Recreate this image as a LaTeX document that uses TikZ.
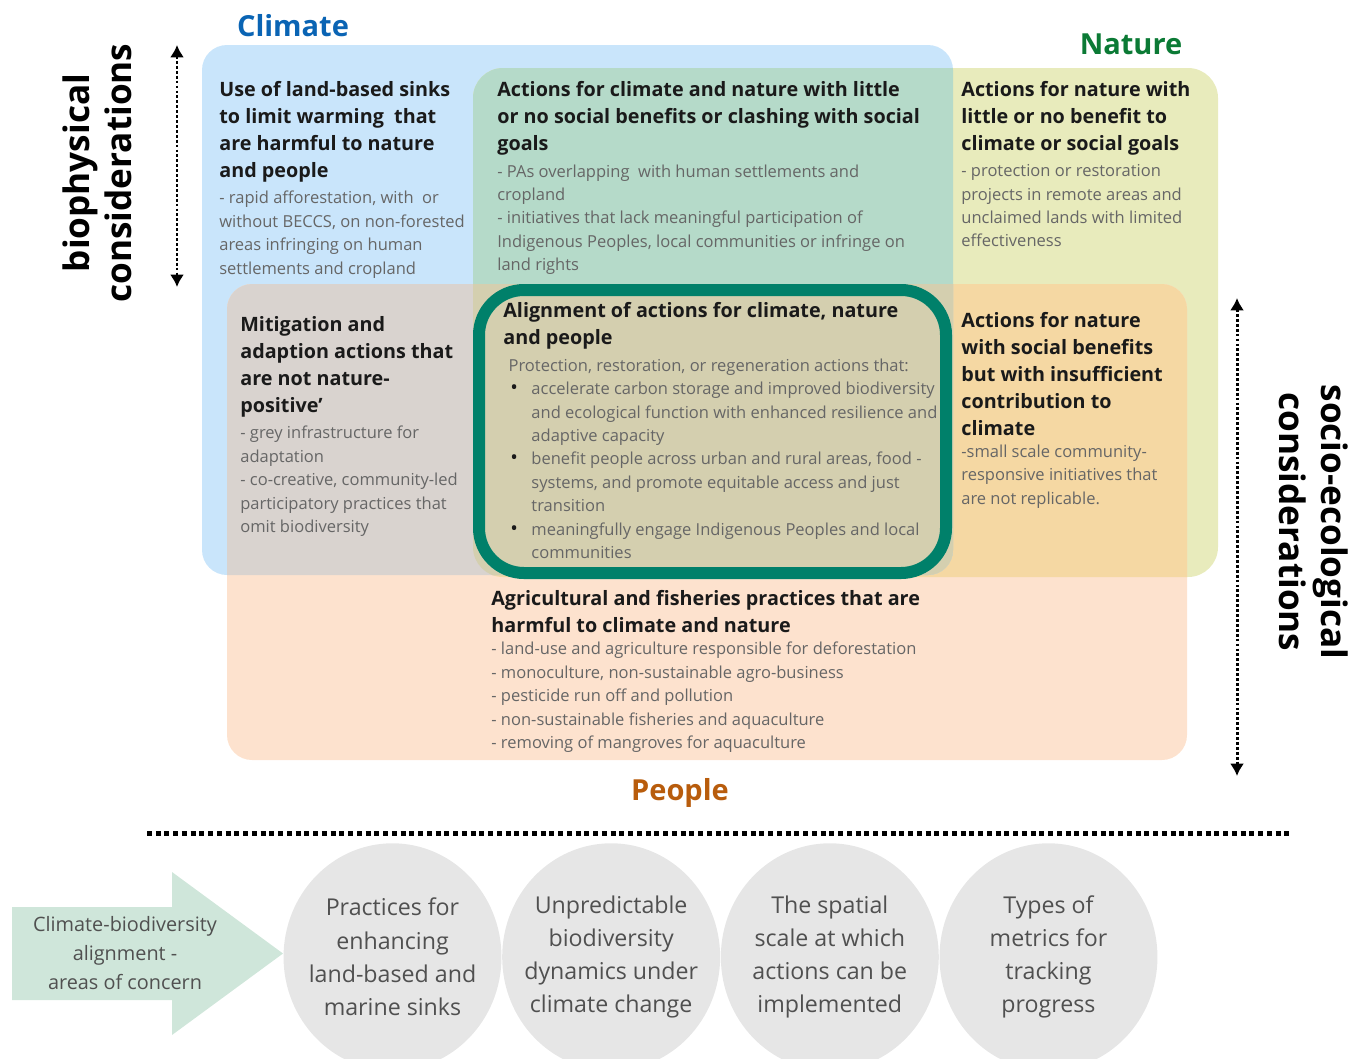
\documentclass[tikz,border=0pt]{standalone}
\usepackage{fontspec}
\setmainfont{Open Sans}
\usepackage{xcolor}
\usetikzlibrary{positioning,shapes.geometric,arrows.meta}

\definecolor{climatefill}{HTML}{C9E5FB}
\definecolor{naturefill}{HTML}{E8EBBC}
\definecolor{peoplefill}{HTML}{FDE2CE}
\definecolor{climnat}{HTML}{B5DAC9}
\definecolor{climpeo}{HTML}{D9D3CF}
\definecolor{natpeo}{HTML}{F5D8A3}
\definecolor{allthree}{HTML}{D4CFAF}
\definecolor{ringgreen}{HTML}{00806A}
\definecolor{climatetxt}{HTML}{0A64B4}
\definecolor{naturetxt}{HTML}{0B7A35}
\definecolor{peopletxt}{HTML}{B85C0C}
\definecolor{headtxt}{HTML}{1A1A1A}
\definecolor{bodytxt}{HTML}{666666}
\definecolor{arrowfill}{HTML}{CFE6DA}
\definecolor{circfill}{HTML}{E6E6E6}
\definecolor{circtxt}{HTML}{505050}

\newcommand{\bul}{\makebox[13pt][l]{\hspace{1pt}\textcolor{headtxt}{\fontsize{11.5}{13.35}\selectfont\textbullet}}}
\newcommand{\ind}{\hspace*{13pt}}

\begin{document}
\begin{tikzpicture}[x=0.02cm, y=-0.02cm, >=Latex,
    head/.style={anchor=north west, align=left, inner sep=0pt, text=headtxt, font=\bfseries\fontsize{11.25}{15.3}\selectfont},
    body/.style={anchor=north west, align=left, inner sep=0pt, text=bodytxt, font=\fontsize{9.4}{13.35}\selectfont},
    title/.style={font=\bfseries\fontsize{16.5}{18}\selectfont, inner sep=0pt},
    side/.style={align=center, inner sep=0pt, text=black, font=\bfseries\fontsize{20}{24}\selectfont},
    concern/.style={ellipse, fill=circfill, minimum width=4.36cm, minimum height=4.55cm, inner xsep=-0.25cm, inner ysep=-0.2cm, align=center, text=circtxt, font=\fontsize{13.2}{18.9}\selectfont},
    dotarrow/.style={line width=1.7pt, dash pattern=on 1.6pt off 1.2pt, {Latex[length=7pt,width=8pt]}-{Latex[length=7pt,width=8pt]}}]

    \useasboundingbox (0,0) rectangle (1365,1058);
    \clip (0,0) rectangle (1365,1058);

    % Regions
    \coordinate (cl1) at (202,45);  \coordinate (cl2) at (953,575);
    \coordinate (na1) at (473,68);  \coordinate (na2) at (1218,577);
    \coordinate (pe1) at (227,284); \coordinate (pe2) at (1187,760);
    \fill[climatefill, rounded corners=0.5cm] (cl1) rectangle (cl2);
    \fill[naturefill, rounded corners=0.6cm] (na1) rectangle (na2);
    \fill[peoplefill, rounded corners=0.5cm] (pe1) rectangle (pe2);
    \begin{scope}
        \clip[rounded corners=0.6cm] (na1) rectangle (na2);
        \fill[natpeo, rounded corners=0.5cm] (pe1) rectangle (pe2);
    \end{scope}
    \begin{scope}
        \clip[rounded corners=0.5cm] (cl1) rectangle (cl2);
        \fill[climnat, rounded corners=0.6cm] (na1) rectangle (na2);
        \fill[climpeo, rounded corners=0.5cm] (pe1) rectangle (pe2);
        \clip[rounded corners=0.6cm] (na1) rectangle (na2);
        \fill[allthree, rounded corners=0.5cm] (pe1) rectangle (pe2);
    \end{scope}
    \draw[ringgreen, line width=0.24cm, rounded corners=0.9cm] (479,290) rectangle (946,573);

    % Titles
    \node[title, text=climatetxt] (climate) at (293,26) {Climate};
    \node[title, text=naturetxt] (nature) at (1131,44) {Nature};
    \node[title, text=peopletxt] (people) at (680,793) {People};
    \node[side, rotate=90] (bio) at (97,173) {biophysical\\considerations};
    \node[side, rotate=-90] (socio) at (1314,522) {socio-ecological\\considerations};

    % Text blocks
    \node[head] (sinkHead) at (219,81) {Use of land-based sinks\\to limit warming~~that\\are harmful to nature\\and people};
    \node[body] (sinkBody) at ([yshift=-5pt]sinkHead.south west) {- rapid afforestation, with~~or\\without BECCS, on non-forested\\areas infringing on human\\settlements and cropland};

    \node[head] (clashHead) at (497,81) {Actions for climate and nature with little\\or no social benefits or clashing with social\\goals};
    \node[body] (clashBody) at ([yshift=-5pt]clashHead.south west) {- PAs overlapping~~with human settlements and\\cropland\\- initiatives that lack meaningful participation of\\Indigenous Peoples, local communities or infringe on\\land rights};

    \node[head] (natHead) at (961,81) {Actions for nature with\\little or no benefit to\\climate or social goals};
    \node[body] (natBody) at ([yshift=-5pt]natHead.south west) {- protection or restoration\\projects in remote areas and\\unclaimed lands with limited\\effectiveness};

    \node[head] (mitHead) at (240,316) {Mitigation and\\adaption actions that\\are not nature-\\positive'};
    \node[body] (mitBody) at ([yshift=-5pt]mitHead.south west) {- grey infrastructure for\\adaptation\\- co-creative, community-led\\participatory practices that\\omit biodiversity};

    \node[head] (alignHead) at (503,302) {Alignment of actions for climate, nature\\and people};
    \node[body] (alignBody) at ([xshift=3pt, yshift=-5pt]alignHead.south west) {Protection, restoration, or regeneration actions that:\\
        \bul accelerate carbon storage and improved biodiversity\\
        \ind and ecological function with enhanced resilience and\\
        \ind adaptive capacity\\
        \bul benefit people across urban and rural areas, food -\\
        \ind systems, and promote equitable access and just\\
        \ind transition\\
        \bul meaningfully engage Indigenous Peoples and local\\
        \ind communities};

    \node[head] (socHead) at (961,312) {Actions for nature\\with social benefits\\but with insufficient\\contribution to\\climate};
    \node[body] (socBody) at ([yshift=-5pt]socHead.south west) {-small scale community-\\responsive initiatives that\\are not replicable.};

    \node[head] (agriHead) at (491,590) {Agricultural and fisheries practices that are\\harmful to climate and nature};
    \node[body] (agriBody) at ([yshift=-5pt]agriHead.south west) {- land-use and agriculture responsible for deforestation\\- monoculture, non-sustainable agro-business\\- pesticide run off and pollution\\- non-sustainable fisheries and aquaculture\\- removing of mangroves for aquaculture};

    % Axis arrows
    \coordinate (bioTop) at (177,45);
    \coordinate (bioBot) at (177,287);
    \draw[dotarrow] (bioTop) -- (bioBot);
    \coordinate (socTop) at (1237,298);
    \coordinate (socBot) at (1237,776);
    \draw[dotarrow] (socTop) -- (socBot);
    \coordinate (sepL) at (147,833);
    \coordinate (sepR) at (1293,833);
    \draw[line width=0.1cm, dash pattern=on 0.1cm off 0.075cm] (sepL) -- (sepR);

    % Areas of concern
    \fill[arrowfill] (12,907) -- (172,907) -- (172,872) -- (283,953.5) -- (172,1035) -- (172,1000) -- (12,1000) -- cycle;
    \node[align=center, text=circtxt, font=\fontsize{11.3}{16.4}\selectfont] (areas) at (125,953) {Climate-biodiversity\\alignment -\\areas of concern};
    \node[concern] (sinks) at (392.5,957) {Practices for\\enhancing\\land-based and\\marine sinks};
    \node[concern, right=0cm of sinks] (dyn) {Unpredictable\\biodiversity\\dynamics under\\climate change};
    \node[concern, right=0cm of dyn] (scale) {The spatial\\scale at which\\actions can be\\implemented};
    \node[concern, right=0cm of scale] (metrics) {Types of\\metrics for\\tracking\\progress};

\end{tikzpicture}
\end{document}
